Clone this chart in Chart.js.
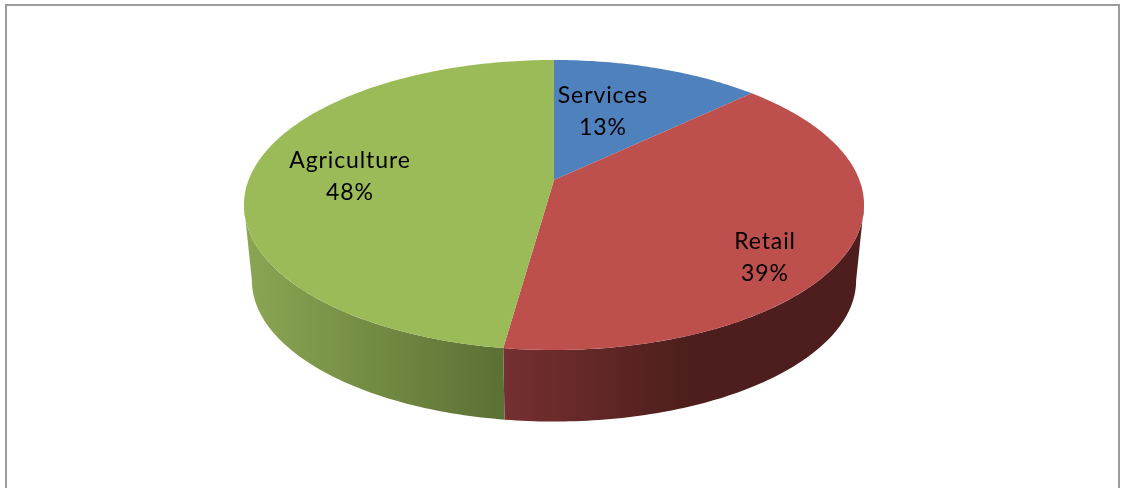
<!DOCTYPE html>
<html>
<head>
<meta charset="utf-8">
<style>
  html, body { margin: 0; padding: 0; background: #fff; overflow: hidden; }
  canvas { display: block; filter: blur(0.45px); }
</style>
<script src="https://cdn.jsdelivr.net/npm/chart.js@4/dist/chart.umd.js"></script>
</head>
<body>
<canvas id="pie" width="1121" height="488"></canvas>
<script>
const sectors = ['Services', 'Retail', 'Agriculture'];
const shares = [12.9, 39.3, 47.8];
const topColors = ['#4f81bd', '#bd4f4c', '#9bbb59'];

// wall shading, left to right
const wallColors = [
  ['#2f4d71', '#2f4d71'],
  ['#753030', '#4d1e1d'],
  ['#8aa552', '#5a7034'],
];
const wallSpans = [[554, 750], [505, 690], [250, 505]];

// where each label sits on the picture
const labelSpots = [[603, 96], [765, 242], [350, 161]];

// perspective of the disc: top face and bottom face
const topFace = { cx: 554, cy: 180, a: 140.7, b: 305.4, k: 0.1724 };
const bottomFace = { cx: 554, cy: 256, a: 137, b: 297.6, k: 0.1724 };

// the side outline runs between these angles, where the faces are widest
const wallStart = Math.asin(topFace.k);
const wallEnd = Math.PI - wallStart;

function project(face, angle) {
  const u = Math.cos(angle);
  const v = -Math.sin(angle);
  const w = 1 + face.k * v;
  return [face.cx + face.b * u / w, face.cy - face.a * v / w];
}

function sampleAngles(from, to) {
  const out = [];
  const n = Math.max(2, Math.ceil((to - from) * 60));
  for (let i = 0; i <= n; i++) out.push(from + (to - from) * i / n);
  return out;
}

const disc3d = {
  id: 'disc3d',
  beforeDatasetsDraw(chart) {
    const ctx = chart.ctx;
    const arcs = chart.getDatasetMeta(0).data;

    ctx.save();
    ctx.strokeStyle = '#9c9c9c';
    ctx.lineWidth = 2;
    ctx.strokeRect(6, 5, 1113, 600);

    // walls first, only the part facing us
    arcs.forEach((el, i) => {
      const from = Math.max(el.startAngle, wallStart);
      const to = Math.min(el.endAngle, wallEnd);
      if (to <= from) return;
      const grad = ctx.createLinearGradient(wallSpans[i][0], 0, wallSpans[i][1], 0);
      grad.addColorStop(0, wallColors[i][0]);
      grad.addColorStop(1, wallColors[i][1]);
      const angles = sampleAngles(from, to);
      ctx.beginPath();
      angles.forEach((a, j) => {
        const p = project(topFace, a);
        if (j === 0) ctx.moveTo(p[0], p[1]); else ctx.lineTo(p[0], p[1]);
      });
      angles.slice().reverse().forEach(a => {
        const p = project(bottomFace, a);
        ctx.lineTo(p[0], p[1]);
      });
      ctx.closePath();
      ctx.fillStyle = grad;
      ctx.fill();
    });

    // top face
    arcs.forEach((el, i) => {
      ctx.beginPath();
      ctx.moveTo(topFace.cx, topFace.cy);
      sampleAngles(el.startAngle, el.endAngle).forEach(a => {
        const p = project(topFace, a);
        ctx.lineTo(p[0], p[1]);
      });
      ctx.closePath();
      ctx.fillStyle = topColors[i];
      ctx.fill();
    });

    // labels
    ctx.fillStyle = '#000';
    ctx.textAlign = 'center';
    ctx.textBaseline = 'middle';
    ctx.font = '23px Lato';
    ctx.letterSpacing = '0.9px';
    arcs.forEach((el, i) => {
      const [x, y] = labelSpots[i];
      ctx.fillText(sectors[i], x, y);
      ctx.fillText(Math.round(shares[i]) + '%', x, y + 32);
    });
    ctx.restore();
    return false;
  },
};

new Chart(document.getElementById('pie'), {
  type: 'pie',
  data: {
    labels: sectors,
    datasets: [{ data: shares, backgroundColor: topColors, borderWidth: 0 }],
  },
  options: {
    responsive: false,
    animation: false,
    plugins: {
      legend: { display: false },
      tooltip: { enabled: false },
    },
  },
  plugins: [disc3d],
});
</script>
</body>
</html>
